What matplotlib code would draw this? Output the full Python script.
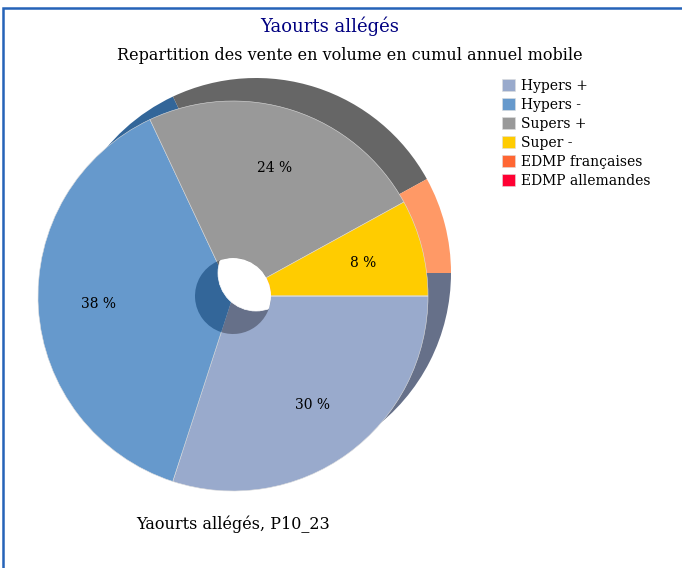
import numpy as np
import matplotlib
matplotlib.use("Agg")
import matplotlib.pyplot as plt
from matplotlib.patches import Circle, Rectangle

plt.rcParams["font.family"] = "DejaVu Serif"

# data
categories = ["Hypers +", "Hypers -", "Supers +", "Super -", "EDMP françaises", "EDMP allemandes"]
shares = [30, 38, 24, 8, 0, 0]
front_colors = ["#99AACC", "#6699CC", "#999999", "#FFCC00", "#FF6633", "#FF0033"]
back_colors = ["#667089", "#336699", "#666666", "#FF9966", "#FF6633", "#FF0033"]

W, H = 682, 568
fig = plt.figure(figsize=(W / 100, H / 100), dpi=100)
ax = fig.add_axes([0, 0, 1, 1])

front_c = (233, H - 296)
back_c = (256, H - 273)
R = 195
r_hole = 38


def pct(p):
    return f"{p:.0f} %" if p > 0.5 else ""


# back face (extrusion)
ax.pie(shares, colors=back_colors, startangle=0, counterclock=False,
       center=back_c, radius=R, wedgeprops=dict(linewidth=0))

# front face
wedges, texts, autotexts = ax.pie(
    shares, colors=front_colors, startangle=0, counterclock=False,
    center=front_c, radius=R, autopct=pct, pctdistance=0.69,
    wedgeprops=dict(linewidth=0.4, edgecolor="#dddddd"),
    textprops=dict(fontsize=10, color="black"))

# inner hole: inside walls then see-through lens
ax.pie(shares, colors=back_colors, startangle=0, counterclock=False,
       center=front_c, radius=r_hole, wedgeprops=dict(linewidth=0))
clip = Circle(front_c, r_hole, transform=ax.transData)
lens = Circle(back_c, r_hole, facecolor="white", edgecolor="white", lw=0.5, zorder=5)
ax.add_patch(lens)
lens.set_clip_path(clip)

ax.set_xlim(0, W)
ax.set_ylim(0, H)
ax.set_aspect("equal")
ax.axis("off")

# frame
fig.patches.append(Rectangle((3 / W, -0.1), 1.2, (H - 8) / H + 0.1, transform=fig.transFigure,
                             fill=False, edgecolor="#2563B8", lw=1.8))

fig.text(330 / W, 1 - 26 / H, "Yaourts allégés", ha="center", va="center",
         fontsize=13, color="#000080")
fig.text(350 / W, 1 - 56 / H, "Repartition des vente en volume en cumul annuel mobile",
         ha="center", va="center", fontsize=11.5, color="black")
fig.text(233 / W, 1 - 524 / H, "Yaourts allégés, P10_23", ha="center", va="center",
         fontsize=11.5, color="black")

leg = fig.legend(wedges, categories, loc="upper left", bbox_to_anchor=(502 / W, 1 - 79 / H),
                 frameon=False, prop=dict(size=10),
                 handlelength=0.9, handleheight=0.9, handletextpad=0.5, labelspacing=0.36,
                 borderaxespad=0, borderpad=0)

fig.savefig("out.png", dpi=100)
